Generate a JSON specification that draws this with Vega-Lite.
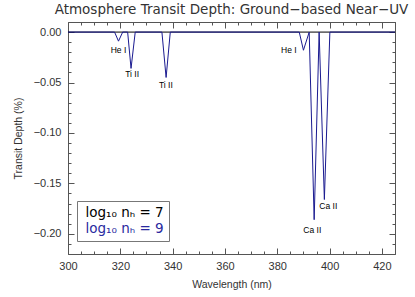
{
  "$schema": "https://vega.github.io/schema/vega-lite/v6.json",
  "width": 327,
  "height": 232,
  "autosize": {"type": "none"},
  "padding": {"left": 68, "top": 22, "right": 20, "bottom": 43},
  "background": "white",
  "title": {"text": "Atmosphere Transit Depth: Ground−based Near−UV", "font": "DejaVu Sans", "fontSize": 13.5, "fontWeight": "normal", "color": "#333333", "offset": 5, "anchor": "middle"},
  "config": {
    "view": {"stroke": "#555555", "strokeWidth": 1},
    "axis": {"grid": false, "domain": false, "labelFont": "Liberation Sans", "labelFontSize": 11, "labelColor": "#333333", "titleFont": "Liberation Sans", "titleFontSize": 10.5, "titleFontWeight": "normal", "titleColor": "#333333", "tickColor": "#555555", "tickWidth": 1}
  },
  "datasets": {
    "spec": [
      {"wl": 300, "depth": 0, "series": "log₁₀ nₕ = 7"},
      {"wl": 425, "depth": 0, "series": "log₁₀ nₕ = 7"},
      {"wl": 300, "depth": 0, "series": "log₁₀ nₕ = 9"},
      {"wl": 317.8, "depth": 0, "series": "log₁₀ nₕ = 9"},
      {"wl": 319.3, "depth": -0.009, "series": "log₁₀ nₕ = 9"},
      {"wl": 320.9, "depth": 0, "series": "log₁₀ nₕ = 9"},
      {"wl": 322.8, "depth": 0, "series": "log₁₀ nₕ = 9"},
      {"wl": 324.1, "depth": -0.036, "series": "log₁₀ nₕ = 9"},
      {"wl": 325.7, "depth": 0, "series": "log₁₀ nₕ = 9"},
      {"wl": 335.9, "depth": 0, "series": "log₁₀ nₕ = 9"},
      {"wl": 337.5, "depth": -0.045, "series": "log₁₀ nₕ = 9"},
      {"wl": 339.1, "depth": 0, "series": "log₁₀ nₕ = 9"},
      {"wl": 388.4, "depth": 0, "series": "log₁₀ nₕ = 9"},
      {"wl": 390.0, "depth": -0.018, "series": "log₁₀ nₕ = 9"},
      {"wl": 392.2, "depth": 0, "series": "log₁₀ nₕ = 9"},
      {"wl": 394.1, "depth": -0.186, "series": "log₁₀ nₕ = 9"},
      {"wl": 396.0, "depth": 0, "series": "log₁₀ nₕ = 9"},
      {"wl": 398.0, "depth": -0.166, "series": "log₁₀ nₕ = 9"},
      {"wl": 400.1, "depth": 0, "series": "log₁₀ nₕ = 9"},
      {"wl": 425, "depth": 0, "series": "log₁₀ nₕ = 9"}
    ],
    "labels": [
      {"wl": 319.3, "depth": -0.0182, "label": "He I"},
      {"wl": 324.5, "depth": -0.0419, "label": "Ti II"},
      {"wl": 337.4, "depth": -0.0521, "label": "Ti II"},
      {"wl": 384.4, "depth": -0.0182, "label": "He I"},
      {"wl": 399.5, "depth": -0.172, "label": "Ca II"},
      {"wl": 393.4, "depth": -0.1967, "label": "Ca II"}
    ]
  },
  "layer": [
    {
      "data": {"name": "spec"},
      "mark": {"type": "line", "strokeWidth": 1},
      "encoding": {
        "x": {"field": "wl", "type": "quantitative", "scale": {"domain": [300, 425], "nice": false, "zero": false},
          "axis": {"orient": "bottom", "title": "Wavelength (nm)", "titlePadding": 8, "ticks": false,
            "values": [300, 320, 340, 360, 380, 400, 420], "labelPadding": 6, "labelFlush": false}},
        "y": {"field": "depth", "type": "quantitative", "scale": {"domain": [-0.22, 0.01], "nice": false, "zero": false},
          "axis": {"orient": "left", "title": "Transit Depth (%)", "titlePadding": 10, "format": ".2f", "ticks": false,
            "values": [0, -0.05, -0.1, -0.15, -0.2], "labelPadding": 7}},
        "color": {"field": "series", "type": "nominal",
          "scale": {"domain": ["log₁₀ nₕ = 7", "log₁₀ nₕ = 9"], "range": ["#000000", "#1a1a90"]},
          "legend": {"title": null, "orient": "none", "legendX": 9, "legendY": 179,
            "symbolSize": 0, "symbolStrokeWidth": 0, "symbolOpacity": 0, "labelOffset": -10,
            "labelFont": "DejaVu Sans", "labelFontSize": 13.5, "labelLimit": 300,
            "labelColor": {"expr": "datum.index === 1 ? '#2a2aa0' : '#000000'"},
            "strokeColor": "#777777", "padding": 5, "rowPadding": 1, "fillColor": "white"}}
      }
    },
    {
      "data": {"name": "labels"},
      "mark": {"type": "text", "font": "Liberation Sans", "fontSize": 8.5, "color": "#000000", "baseline": "middle", "align": "center"},
      "encoding": {
        "x": {"field": "wl", "type": "quantitative",
          "axis": {"orient": "bottom", "title": null, "labels": false, "ticks": true, "tickSize": -6,
            "values": [300, 320, 340, 360, 380, 400, 420]}},
        "y": {"field": "depth", "type": "quantitative",
          "axis": {"orient": "left", "title": null, "labels": false, "ticks": true, "tickSize": -6,
            "values": [0, -0.05, -0.1, -0.15, -0.2]}},
        "text": {"field": "label", "type": "nominal"}
      }
    },
    {
      "data": {"name": "labels"},
      "mark": {"type": "text", "opacity": 0},
      "encoding": {
        "x": {"field": "wl", "type": "quantitative",
          "axis": {"orient": "bottom", "title": null, "labels": false, "ticks": true, "tickSize": -3,
            "values": [305,310,315,325,330,335,345,350,355,365,370,375,385,390,395,405,410,415,425]}},
        "y": {"field": "depth", "type": "quantitative",
          "axis": {"orient": "left", "title": null, "labels": false, "ticks": true, "tickSize": -3,
            "values": [0.01,-0.01,-0.02,-0.03,-0.04,-0.06,-0.07,-0.08,-0.09,-0.11,-0.12,-0.13,-0.14,-0.16,-0.17,-0.18,-0.19,-0.21,-0.22]}},
        "text": {"field": "label", "type": "nominal"}
      }
    },
    {
      "data": {"name": "labels"},
      "mark": {"type": "text", "opacity": 0},
      "encoding": {
        "x": {"field": "wl", "type": "quantitative",
          "axis": {"orient": "top", "title": null, "labels": false, "ticks": true, "tickSize": -6,
            "values": [300, 320, 340, 360, 380, 400, 420]}},
        "y": {"field": "depth", "type": "quantitative",
          "axis": {"orient": "right", "title": null, "labels": false, "ticks": true, "tickSize": -6,
            "values": [0, -0.05, -0.1, -0.15, -0.2]}},
        "text": {"field": "label", "type": "nominal"}
      }
    },
    {
      "data": {"name": "labels"},
      "mark": {"type": "text", "opacity": 0},
      "encoding": {
        "x": {"field": "wl", "type": "quantitative",
          "axis": {"orient": "top", "title": null, "labels": false, "ticks": true, "tickSize": -3,
            "values": [305,310,315,325,330,335,345,350,355,365,370,375,385,390,395,405,410,415,425]}},
        "y": {"field": "depth", "type": "quantitative",
          "axis": {"orient": "right", "title": null, "labels": false, "ticks": true, "tickSize": -3,
            "values": [0.01,-0.01,-0.02,-0.03,-0.04,-0.06,-0.07,-0.08,-0.09,-0.11,-0.12,-0.13,-0.14,-0.16,-0.17,-0.18,-0.19,-0.21,-0.22]}},
        "text": {"field": "label", "type": "nominal"}
      }
    }
  ],
  "resolve": {"axis": {"x": "independent", "y": "independent"}}
}
